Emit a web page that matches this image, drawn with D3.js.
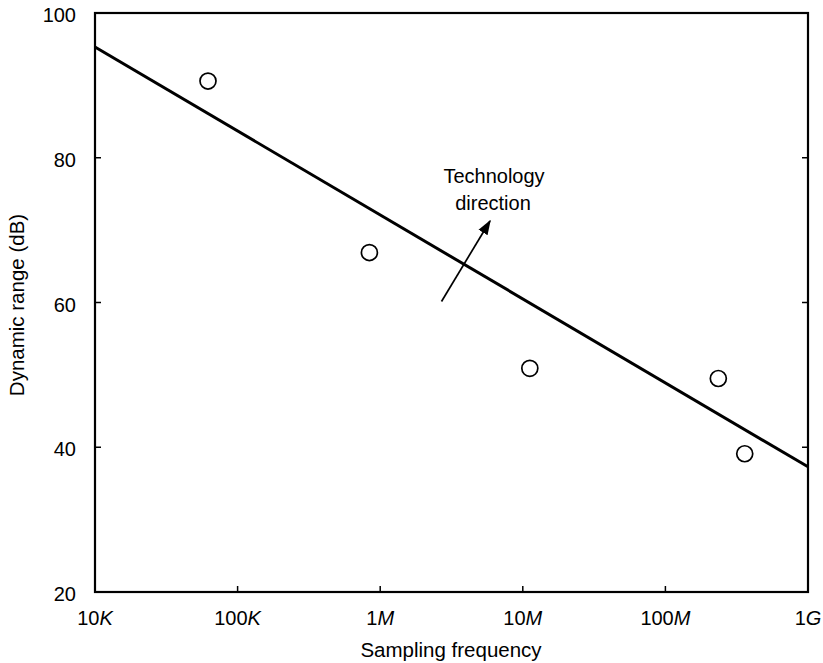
<!DOCTYPE html>
<html>
<head>
<meta charset="utf-8">
<script src="https://cdn.jsdelivr.net/npm/d3@7"></script>
<style>
body { margin: 0; background: #fff; }
text { font-family: "Liberation Sans", Arial, sans-serif; fill: #000; }
</style>
</head>
<body>
<svg id="chart" width="823" height="663"></svg>
<script>
// data
var freqs = [6.2e4, 8.4e5, 1.12e7, 2.35e8, 3.6e8]
var ranges = [90.6, 66.9, 50.9, 49.5, 39.1]
var trendFreq = [1e4, 1e9]
var trendDb = [95.3, 37.3]
var xTicks = [1e4, 1e5, 1e6, 1e7, 1e8, 1e9]
var xNum = ["10", "100", "1", "10", "100", "1"]
var xUnit = ["K", "K", "M", "M", "M", "G"]
var yTicks = [20, 40, 60, 80, 100]

var svg = d3.select("#chart")
var mLeft = 95, mRight = 808, mTop = 13, mBottom = 592

var x = d3.scaleLog().domain([1e4, 1e9]).range([mLeft, mRight])
var y = d3.scaleLinear().domain([20, 100]).range([mBottom, mTop])

// inward ticks
svg.selectAll(".xt").data(xTicks.slice(1, -1)).enter().append("line")
    .attr("x1", function(d) { return x(d) }).attr("x2", function(d) { return x(d) })
    .attr("y1", mBottom).attr("y2", mBottom - 6)
    .attr("stroke", "#000").attr("stroke-width", 1.5)
svg.selectAll(".yt").data(yTicks.slice(1, -1)).enter().append("line")
    .attr("x1", mLeft).attr("x2", mLeft + 6)
    .attr("y1", function(d) { return y(d) }).attr("y2", function(d) { return y(d) })
    .attr("stroke", "#000").attr("stroke-width", 1.5)
svg.selectAll(".yt2").data(yTicks.slice(1, -1)).enter().append("line")
    .attr("x1", mRight).attr("x2", mRight - 6)
    .attr("y1", function(d) { return y(d) }).attr("y2", function(d) { return y(d) })
    .attr("stroke", "#000").attr("stroke-width", 1.5)

// frame
svg.append("rect")
    .attr("x", mLeft).attr("y", mTop)
    .attr("width", mRight - mLeft).attr("height", mBottom - mTop)
    .attr("fill", "none").attr("stroke", "#000").attr("stroke-width", 2.2)

// tick labels
svg.selectAll(".yl").data(yTicks).enter().append("text")
    .attr("x", 76).attr("y", function(d) { return y(d) + 9 })
    .attr("text-anchor", "end").attr("font-size", 20)
    .text(function(d) { return d })

var xl = svg.selectAll(".xl").data(xTicks).enter().append("text")
    .attr("x", function(d) { return x(d) }).attr("y", 625)
    .attr("text-anchor", "middle").attr("font-size", 20)
xl.append("tspan").text(function(d, i) { return xNum[i] })
xl.append("tspan").attr("font-style", "italic").text(function(d, i) { return xUnit[i] })

// axis titles
svg.append("text")
    .attr("x", 451).attr("y", 657)
    .attr("text-anchor", "middle").attr("font-size", 20.5)
    .text("Sampling frequency")
svg.append("text")
    .attr("transform", "translate(24,305) rotate(-90)")
    .attr("text-anchor", "middle").attr("font-size", 20.5)
    .text("Dynamic range (dB)")

// trend line
svg.append("line")
    .attr("x1", x(trendFreq[0])).attr("y1", y(trendDb[0]))
    .attr("x2", x(trendFreq[1])).attr("y2", y(trendDb[1]))
    .attr("stroke", "#000").attr("stroke-width", 3)

// data points
svg.selectAll(".pt").data(freqs).enter().append("circle")
    .attr("cx", function(d) { return x(d) })
    .attr("cy", function(d, i) { return y(ranges[i]) })
    .attr("r", 8)
    .attr("fill", "#fff").attr("stroke", "#000").attr("stroke-width", 1.7)

// technology direction arrow
svg.append("defs").append("marker")
    .attr("id", "head").attr("viewBox", "0 0 10 10")
    .attr("refX", 9).attr("refY", 5)
    .attr("markerWidth", 15).attr("markerHeight", 15)
    .attr("markerUnits", "userSpaceOnUse")
    .attr("orient", "auto")
    .append("path").attr("d", "M0,1.5 L10,5 L0,8.5 Z").attr("fill", "#000")
svg.append("line")
    .attr("x1", 441.5).attr("y1", 301.5).attr("x2", 490).attr("y2", 221)
    .attr("stroke", "#000").attr("stroke-width", 1.7)
    .attr("marker-end", "url(#head)")

svg.append("text").attr("x", 494).attr("y", 183)
    .attr("text-anchor", "middle").attr("font-size", 20).text("Technology")
svg.append("text").attr("x", 493).attr("y", 210)
    .attr("text-anchor", "middle").attr("font-size", 20).text("direction")
</script>
</body>
</html>
